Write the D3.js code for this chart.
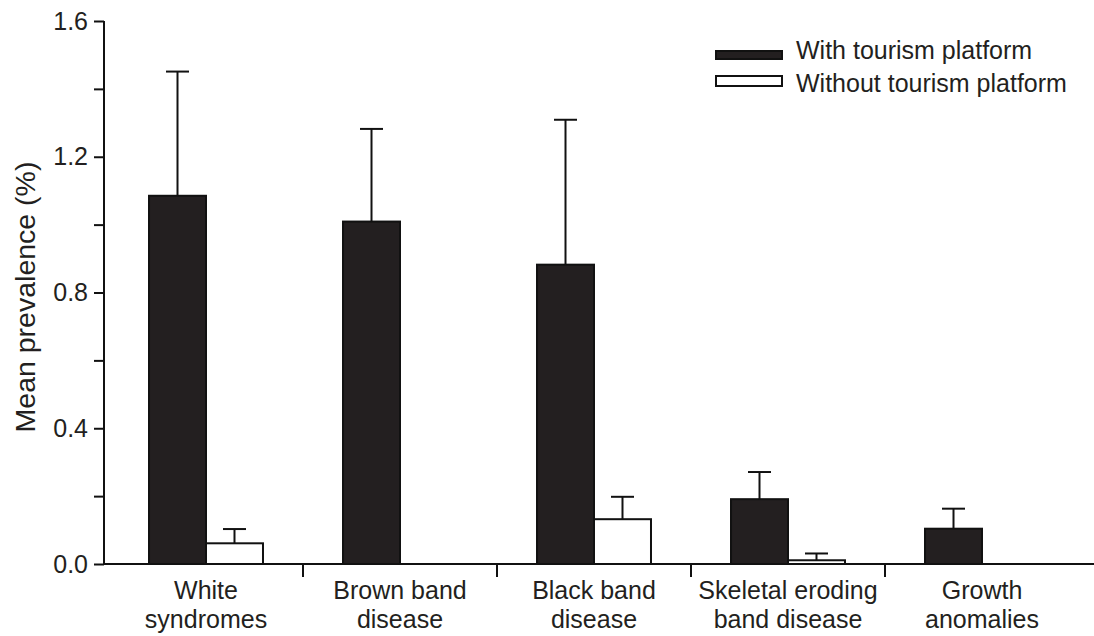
<!DOCTYPE html>
<html>
<head>
<meta charset="utf-8">
<script src="https://cdn.jsdelivr.net/npm/d3@7"></script>
<style>
  html, body { margin: 0; padding: 0; background: #fff; }
  svg { display: block; font-family: "Liberation Sans", Arial, sans-serif; }
</style>
</head>
<body>
<svg id="chart" width="1094" height="636"></svg>
<script>
// ---- data ----
const categories = [
  ["White", "syndromes"],
  ["Brown band", "disease"],
  ["Black band", "disease"],
  ["Skeletal eroding", "band disease"],
  ["Growth", "anomalies"]
];
const series = ["With tourism platform", "Without tourism platform"];
const withPlatform = [1.085, 1.009, 0.882, 0.191, 0.104];
const withPlatformErr = [0.366, 0.273, 0.427, 0.080, 0.059];
const withoutPlatform = [0.061, 0, 0.132, 0.011, 0];
const withoutPlatformErr = [0.042, 0, 0.066, 0.020, 0];
const yTicks = [0, 0.2, 0.4, 0.6, 0.8, 1.0, 1.2, 1.4, 1.6];
const yTickLabels = ["0.0", "", "0.4", "", "0.8", "", "1.2", "", "1.6"];

// ---- layout ----
const svg = d3.select("#chart");
const ink = "#231f20";
const catKeys = categories.map(c => c.join(" "));

const x = d3.scaleBand().domain(catKeys).range([109, 1079]).padding(0);
const xs = d3.scaleBand().domain(series).range([0, x.bandwidth()]).paddingInner(0).paddingOuter(0.702);
const y = d3.scaleLinear().domain([0, 1.6]).range([564, 21]);

const values = [withPlatform, withoutPlatform];
const errs = [withPlatformErr, withoutPlatformErr];
const fills = [ink, "#ffffff"];

const data = [];
catKeys.forEach((c, i) => {
  series.forEach((s, j) => {
    data.push({ cat: c, s, v: values[j][i], e: errs[j][i], fill: fills[j] });
  });
});

// bars
const bars = svg.append("g");
bars.selectAll("rect").data(data.filter(d => d.v > 0)).join("rect")
  .attr("x", d => x(d.cat) + xs(d.s))
  .attr("y", d => y(d.v))
  .attr("width", xs.bandwidth())
  .attr("height", d => y(0) - y(d.v))
  .attr("fill", d => d.fill)
  .attr("stroke", "#111")
  .attr("stroke-width", 2);

// error bars
const eb = svg.append("g").attr("stroke", "#111").attr("stroke-width", 2);
data.filter(d => d.e > 0).forEach(d => {
  const cx = x(d.cat) + xs(d.s) + xs.bandwidth() / 2;
  eb.append("line").attr("x1", cx).attr("x2", cx).attr("y1", y(d.v)).attr("y2", y(d.v + d.e));
  eb.append("line").attr("x1", cx - 11.5).attr("x2", cx + 11.5).attr("y1", y(d.v + d.e)).attr("y2", y(d.v + d.e));
});

// y axis
const yAxis = d3.axisLeft(y).tickValues(yTicks)
  .tickFormat((d, i) => yTickLabels[i]).tickSize(10).tickPadding(6);
const gy = svg.append("g").attr("transform", "translate(104,0)").call(yAxis);
gy.select(".domain").attr("d", `M0,${y(1.6)}V${y(0)}`).attr("stroke", "#111").attr("stroke-width", 2);
gy.selectAll(".tick line").attr("stroke", "#111").attr("stroke-width", 2);
gy.selectAll(".tick text").attr("font-size", 25).attr("fill", ink)
  .attr("font-family", "Liberation Sans, Arial, sans-serif");

// x axis
const gx = svg.append("g");
gx.append("line").attr("x1", 103).attr("x2", 1094).attr("y1", y(0)).attr("y2", y(0))
  .attr("stroke", "#111").attr("stroke-width", 2);
catKeys.slice(0, -1).forEach(c => {
  const tx = x(c) + x.bandwidth();
  gx.append("line").attr("x1", tx).attr("x2", tx).attr("y1", y(0)).attr("y2", y(0) + 13)
    .attr("stroke", "#111").attr("stroke-width", 2);
});
categories.forEach((lines, i) => {
  const cx = x(catKeys[i]) + x.bandwidth() / 2;
  const t = gx.append("text").attr("text-anchor", "middle").attr("font-size", 25).attr("fill", ink);
  lines.forEach((ln, k) => {
    t.append("tspan").attr("x", cx).attr("y", 599 + k * 29).text(ln);
  });
});

// y title
svg.append("text")
  .attr("transform", `translate(35,297) rotate(-90)`)
  .attr("text-anchor", "middle")
  .attr("font-size", 28.5)
  .attr("fill", ink)
  .text("Mean prevalence (%)");

// legend
const leg = svg.append("g");
const legRows = [
  { s: series[0], fill: ink, y0: 51, h: 8, base: 59 },
  { s: series[1], fill: "#fff", y0: 76, h: 10, base: 92 }
];
legRows.forEach(r => {
  leg.append("rect").attr("x", 716).attr("y", r.y0).attr("width", 66).attr("height", r.h)
    .attr("fill", r.fill).attr("stroke", "#111").attr("stroke-width", 2);
  leg.append("text").attr("x", 796).attr("y", r.base).attr("font-size", 25).attr("fill", ink).text(r.s);
});
</script>
</body>
</html>
